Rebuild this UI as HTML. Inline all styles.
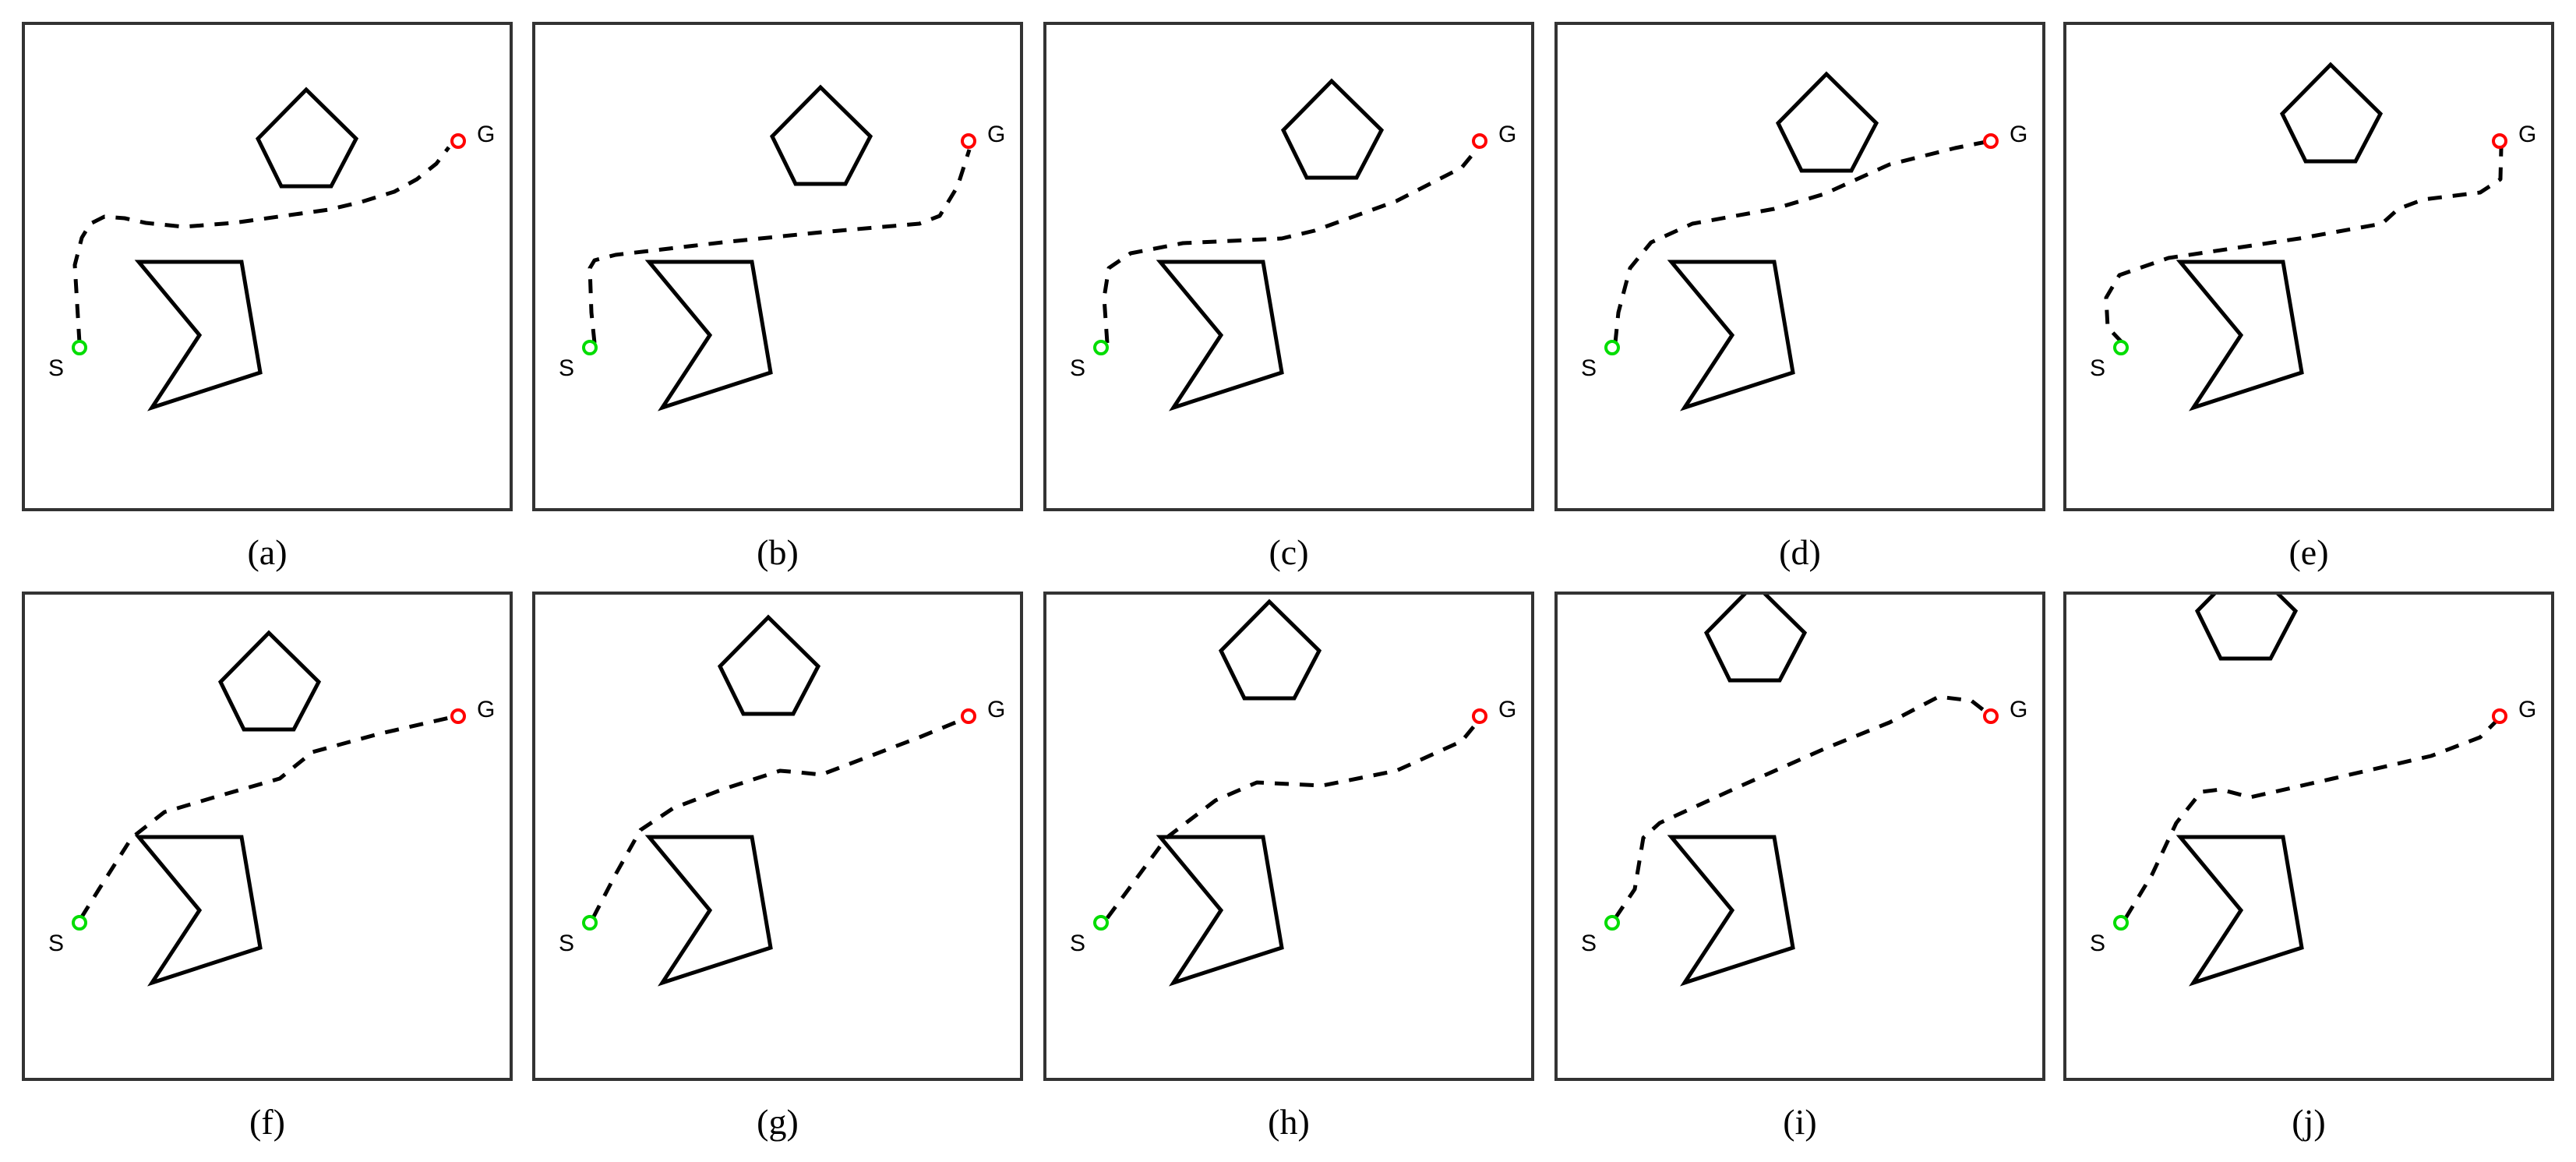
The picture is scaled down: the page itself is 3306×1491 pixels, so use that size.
<!DOCTYPE html>
<html><head><meta charset="utf-8"><style>
html,body{margin:0;padding:0;background:#fff;}
svg{display:block}
.b{fill:none;stroke:#333;stroke-width:4}
.o{fill:none;stroke:#000;stroke-width:5;stroke-linejoin:miter}
.p{fill:none;stroke:#000;stroke-width:5;stroke-dasharray:18 14;stroke-linejoin:round;stroke-linecap:butt}
.sg{font-family:"Liberation Sans",sans-serif;font-size:30px;fill:#000}
.cap{font-family:"Liberation Serif",serif;font-size:46px;fill:#000;text-anchor:middle}
</style></head><body>
<svg width="3306" height="1491" viewBox="0 0 3306 1491" xmlns="http://www.w3.org/2000/svg">
<defs>
<g id="st">
<polygon class="o" points="148,306 280,306 304,448 165,493 226,400"/>
<circle cx="72" cy="416" r="8" fill="#fff" stroke="#0d0" stroke-width="4"/>
<circle cx="558" cy="151" r="8" fill="#fff" stroke="#f00" stroke-width="4"/>
<text class="sg" x="32" y="452">S</text>
<text class="sg" x="582" y="152">G</text>
</g>
<polygon id="pent" class="o" points="363,85 427,148 395,209 331,209 301,148"/>
</defs>

<!-- Row 1 -->
<svg x="30" y="30" width="626" height="624"><g><polyline class="p" points="72,410 66,310 75,275 86,257 104,248 130,250 157,256 206,261 270,256 327,248 392,239 434,229 476,216 505,200 530,180 546,159"/><use href="#st"/><use href="#pent"/></g></svg>
<svg x="685" y="30" width="626" height="624"><g><polyline class="p" points="78,410 74,371 72,314 78,304 105,297 242,281 369,268 495,257 521,247 544,209 559,162"/><use href="#st"/><use href="#pent" transform="translate(5,-3)"/></g></svg>
<svg x="1341" y="30" width="626" height="624"><g><polyline class="p" points="80,410 76,352 82,314 110,295 177,282 304,276 346,266 451,228 535,185 558,157"/><use href="#st"/><use href="#pent" transform="translate(5,-11)"/></g></svg>
<svg x="1997" y="30" width="626" height="624"><g><polyline class="p" points="76,410 80,371 95,314 122,281 175,257 280,238 344,219 428,181 512,160 552,152"/><use href="#st"/><use href="#pent" transform="translate(-16,-20)"/></g></svg>
<svg x="2650" y="30" width="626" height="624"><g><polyline class="p" points="74,410 55,390 53,352 70,323 133,301 301,276 407,257 428,238 460,226 533,217 559,200 560,160"/><use href="#st"/><use href="#pent" transform="translate(-22,-32)"/></g></svg>
<rect class="b" x="30" y="30" width="626" height="624"/>
<rect class="b" x="685" y="30" width="626" height="624"/>
<rect class="b" x="1341" y="30" width="626" height="624"/>
<rect class="b" x="1997" y="30" width="626" height="624"/>
<rect class="b" x="2650" y="30" width="626" height="624"/>
<text class="cap" x="343" y="724">(a)</text>
<text class="cap" x="998" y="724">(b)</text>
<text class="cap" x="1654" y="724">(c)</text>
<text class="cap" x="2310" y="724">(d)</text>
<text class="cap" x="2963" y="724">(e)</text>

<!-- Row 2 -->
<svg x="30" y="761" width="626" height="624"><polyline class="p" points="74,417 97,380 139,314 181,281 245,262 329,238 371,204 455,181 551,159"/><g transform="translate(0,7)"><use href="#st"/><use href="#pent" transform="translate(-48,-41)"/></g></svg>
<svg x="685" y="761" width="626" height="624"><polyline class="p" points="76,417 105,361 137,304 179,276 242,252 316,228 340,230 369,233 432,209 495,185 556,160"/><g transform="translate(0,7)"><use href="#st"/><use href="#pent" transform="translate(-62,-61)"/></g></svg>
<svg x="1341" y="761" width="626" height="624"><polyline class="p" points="80,417 114,371 156,314 219,266 272,243 356,247 451,228 535,190 558,162"/><g transform="translate(0,7)"><use href="#st"/><use href="#pent" transform="translate(-75,-81)"/></g></svg>
<svg x="1997" y="761" width="626" height="624"><polyline class="p" points="76,417 101,380 112,314 133,295 238,247 344,200 428,166 491,133 533,138 556,156"/><g transform="translate(0,7)"><use href="#st"/><use href="#pent" transform="translate(-108,-104)"/></g></svg>
<svg x="2650" y="761" width="626" height="624"><polyline class="p" points="78,417 112,361 143,295 175,255 200,252 238,262 344,238 470,209 533,185 556,162"/><g transform="translate(0,7)"><use href="#st"/><use href="#pent" transform="translate(-131,-132)"/></g></svg>
<rect class="b" x="30" y="761" width="626" height="624"/>
<rect class="b" x="685" y="761" width="626" height="624"/>
<rect class="b" x="1341" y="761" width="626" height="624"/>
<rect class="b" x="1997" y="761" width="626" height="624"/>
<rect class="b" x="2650" y="761" width="626" height="624"/>
<text class="cap" x="343" y="1455">(f)</text>
<text class="cap" x="998" y="1455">(g)</text>
<text class="cap" x="1654" y="1455">(h)</text>
<text class="cap" x="2310" y="1455">(i)</text>
<text class="cap" x="2963" y="1455">(j)</text>
</svg>
</body></html>
